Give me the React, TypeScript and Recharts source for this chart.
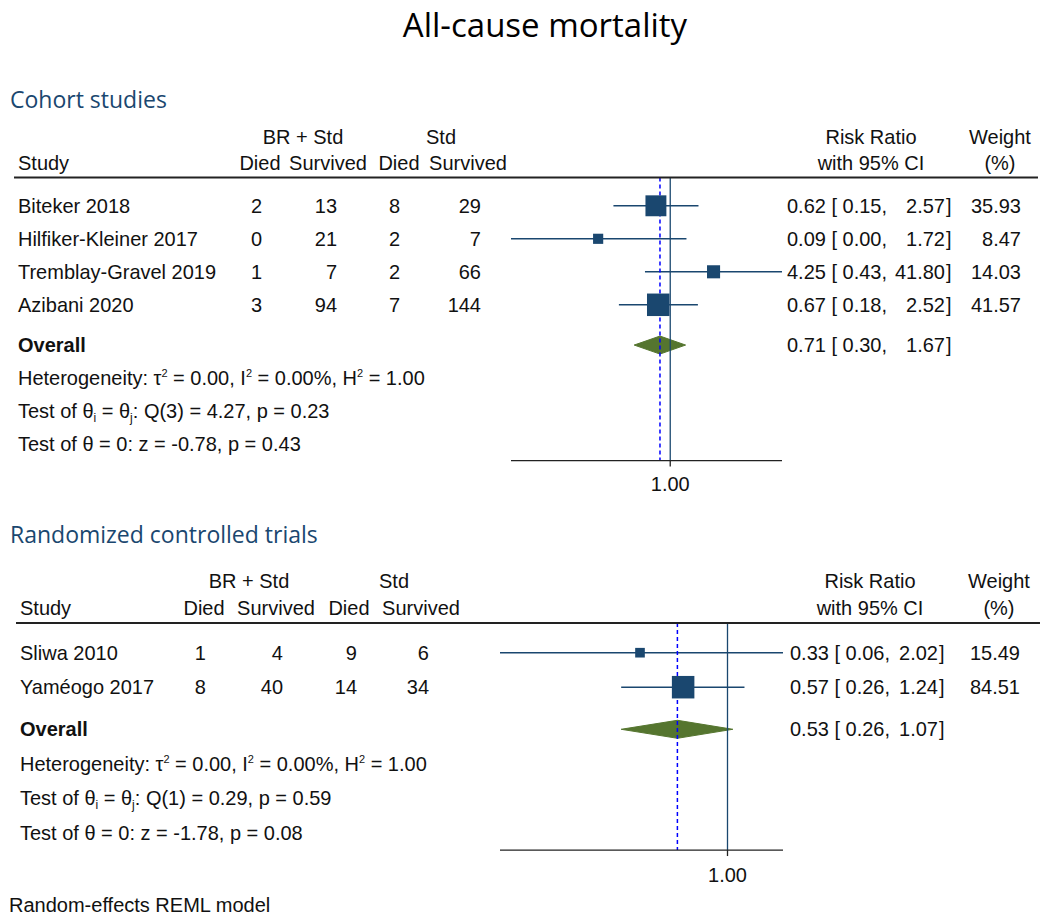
import { ComposedChart, Scatter, Area, XAxis, YAxis, ErrorBar, ReferenceLine } from 'recharts'

const FONT = '"Liberation Sans", Arial, sans-serif'
const HEAD_FONT = '"Open Sans", sans-serif'
const NAVY = '#1a476f'
const GREEN = '#55752f'
const INK = '#111'

// Cohort studies
const cohortStudy = ['Biteker 2018', 'Hilfiker-Kleiner 2017', 'Tremblay-Gravel 2019', 'Azibani 2020']
const cohortBrDied = [2, 0, 1, 3]
const cohortBrSurvived = [13, 21, 7, 94]
const cohortStdDied = [8, 2, 2, 7]
const cohortStdSurvived = [29, 7, 66, 144]
const cohortRR = [0.62, 0.09, 4.25, 0.67]
const cohortLo = [0.15, 0.0049, 0.43, 0.18]
const cohortHi = [2.57, 1.72, 41.8, 2.52]
const cohortWeight = [35.93, 8.47, 14.03, 41.57]
const cohortOverall = [0.71, 0.3, 1.67] // RR, lower, upper
const cohortHet = [0.0, 0.0, 1.0] // tau2, I2 (%), H2
const cohortQ = [3, 4.27, 0.23] // df, Q, p
const cohortZ = [-0.78, 0.43] // z, p

// Randomized controlled trials
const rctStudy = ['Sliwa 2010', 'Yaméogo 2017']
const rctBrDied = [1, 8]
const rctBrSurvived = [4, 40]
const rctStdDied = [9, 14]
const rctStdSurvived = [6, 34]
const rctRR = [0.33, 0.57]
const rctLo = [0.056, 0.26]
const rctHi = [2.02, 1.24]
const rctWeight = [15.49, 84.51]
const rctOverall = [0.53, 0.26, 1.07]
const rctHet = [0.0, 0.0, 1.0]
const rctQ = [1, 0.29, 0.59]
const rctZ = [-1.78, 0.08]

// column positions (page x)
const cohortCols = {
  name: 18, brDied: 262, brSurv: 337, stdDied: 400, stdSurv: 481,
  brHead: 303, stdHead: 441, died1: 260, surv1: 328, died2: 399, surv2: 468,
  rr: 787, hi: 945, weight: 1021, rrHead: 871, wHead: 1000,
  ruleFrom: 14, ruleTo: 1038, plotL: 511, plotR: 782,
}
const rctCols = {
  name: 20, brDied: 206, brSurv: 283, stdDied: 357, stdSurv: 429,
  brHead: 249, stdHead: 394, died1: 204, surv1: 276, died2: 349, surv2: 421,
  rr: 790, hi: 938, weight: 1020, rrHead: 870, wHead: 999,
  ruleFrom: 16, ruleTo: 1040, plotL: 500, plotR: 783,
}

const f2 = (v: number) => v.toFixed(2)
const px = (v: number) => v - 8

function renderRow(props: any, c: any) {
  const { cy, payload: p } = props
  const t = (x: number, s: any, anchor = 'start', extra: any = {}) => (
    <text x={px(x)} y={cy} dy="0.35em" textAnchor={anchor} {...extra}>{s}</text>
  )
  const ci = (rr: number, lo: number, hi: number) => (
    <>
      {t(c.rr, `${f2(rr)} [ ${f2(lo)},`)}
      {t(c.hi, f2(hi), 'end')}
      {t(c.hi + 1, ']')}
    </>
  )
  let body: any = null
  if (p.kind === 'head1') {
    body = <>{t(c.brHead, 'BR + Std', 'middle')}{t(c.stdHead, 'Std', 'middle')}{t(c.rrHead, 'Risk Ratio', 'middle')}{t(c.wHead, 'Weight', 'middle')}</>
  } else if (p.kind === 'head2') {
    body = (
      <>
        {t(c.name, 'Study')}
        {t(c.died1, 'Died', 'middle')}{t(c.surv1, 'Survived', 'middle')}
        {t(c.died2, 'Died', 'middle')}{t(c.surv2, 'Survived', 'middle')}
        {t(c.rrHead, 'with 95% CI', 'middle')}{t(c.wHead, '(%)', 'middle')}
      </>
    )
  } else if (p.kind === 'rule') {
    body = <line x1={px(c.ruleFrom)} x2={px(c.ruleTo)} y1={cy} y2={cy} stroke="#222" strokeWidth={2} />
  } else if (p.kind === 'study') {
    body = (
      <>
        {t(c.name, p.name)}
        {t(c.brDied, p.brDied, 'end')}{t(c.brSurv, p.brSurv, 'end')}
        {t(c.stdDied, p.stdDied, 'end')}{t(c.stdSurv, p.stdSurv, 'end')}
        {ci(p.rr, p.lo, p.hi)}
        {t(c.weight, f2(p.w), 'end')}
      </>
    )
  } else if (p.kind === 'overall') {
    body = <>{t(c.name, 'Overall', 'start', { fontWeight: 700 })}{ci(p.rr, p.lo, p.hi)}</>
  } else if (p.kind === 'het') {
    const [tau2, i2, h2] = p.v
    body = (
      <text x={px(c.name)} y={cy} dy="0.35em">
        Heterogeneity: τ<tspan dy={-8} fontSize={11}>2</tspan>
        <tspan dy={8}>{` = ${f2(tau2)}, I`}</tspan><tspan dy={-8} fontSize={11}>2</tspan>
        <tspan dy={8}>{` = ${f2(i2)}%, H`}</tspan><tspan dy={-8} fontSize={11}>2</tspan>
        <tspan dy={8}>{` = ${f2(h2)}`}</tspan>
      </text>
    )
  } else if (p.kind === 'q') {
    const [df, qv, pv] = p.v
    body = (
      <text x={px(c.name)} y={cy} dy="0.35em">
        Test of θ<tspan dy={4} fontSize={12}>i</tspan>
        <tspan dy={-4}> = θ</tspan><tspan dy={4} fontSize={12}>j</tspan>
        <tspan dy={-4}>{`: Q(${df}) = ${f2(qv)}, p = ${f2(pv)}`}</tspan>
      </text>
    )
  } else if (p.kind === 'z') {
    const [zv, pv] = p.v
    body = t(c.name, `Test of θ = 0: z = ${f2(zv)}, p = ${f2(pv)}`)
  }
  return <g fontFamily={FONT} fontSize={20} fill={INK}>{body}</g>
}

const renderBox = (wMax: number) => (props: any) => {
  const { cx, cy, payload } = props
  const s = 22.5 * Math.sqrt(payload.w / wMax)
  return <rect x={cx - s / 2} y={cy - s / 2} width={s} height={s} fill={NAVY} />
}

function Panel(props: any) {
  const { study, brDied, brSurv, stdDied, stdSurv, rr, lo, hi, weight, overall, het, q, z, cols, rowH, firstY, tickGap } = props
  const ln = Math.log
  const n = study.length
  const yMin = -2.6
  const yMax = n + 3.72
  const plotH = (yMax - yMin) * rowH
  const axisH = 44
  const xMin = Math.min(...lo.map(ln))
  const xMax = Math.max(...hi.map(ln))
  const wMax = Math.max(...weight)

  const boxes = study.map((_: string, i: number) => ({
    x: ln(rr[i]), y: i, w: weight[i],
    err: [ln(rr[i]) - ln(lo[i]), ln(hi[i]) - ln(rr[i])],
  }))
  const oy = n + 0.22
  const dh = 9 / rowH
  const diamond = [
    { x: ln(overall[1]), d: [oy, oy] },
    { x: ln(overall[0]), d: [oy - dh, oy + dh] },
    { x: ln(overall[2]), d: [oy, oy] },
  ]
  const rows = [
    { x: 0, y: -2.07, kind: 'head1' },
    { x: 0, y: -1.29, kind: 'head2' },
    { x: 0, y: -0.86, kind: 'rule' },
    ...study.map((name: string, i: number) => ({
      x: 0, y: i, kind: 'study', name,
      brDied: brDied[i], brSurv: brSurv[i], stdDied: stdDied[i], stdSurv: stdSurv[i],
      rr: rr[i], lo: lo[i], hi: hi[i], w: weight[i],
    })),
    { x: 0, y: oy, kind: 'overall', rr: overall[0], lo: overall[1], hi: overall[2] },
    { x: 0, y: n + 1.22, kind: 'het', v: het },
    { x: 0, y: n + 2.22, kind: 'q', v: q },
    { x: 0, y: n + 3.22, kind: 'z', v: z },
  ]

  return (
    <div style={{ position: 'absolute', left: 0, top: firstY - 8 + yMin * rowH }}>
      <ComposedChart
        width={1034}
        height={plotH + axisH}
        data={diamond}
        margin={{ top: 0, bottom: 0, left: px(cols.plotL), right: 1034 - px(cols.plotR) }}
      >
        <XAxis
          type="number"
          dataKey="x"
          domain={[xMin, xMax]}
          ticks={[0]}
          tickFormatter={() => '1.00'}
          height={axisH}
          tickSize={6}
          tickMargin={tickGap}
          axisLine={{ stroke: '#222', strokeWidth: 1.3 }}
          tickLine={{ stroke: '#222', strokeWidth: 1.3 }}
          tick={{ fontSize: 20, fill: INK, fontFamily: FONT }}
        />
        <YAxis type="number" dataKey="y" domain={[yMin, yMax]} reversed hide />
        <Area dataKey="d" type="linear" fill={GREEN} fillOpacity={1} stroke={GREEN} strokeWidth={1} isAnimationActive={false} />
        <Scatter data={boxes} shape={renderBox(wMax)} isAnimationActive={false}>
          <ErrorBar dataKey="err" direction="x" width={0} stroke={NAVY} strokeWidth={1.5} />
        </Scatter>
        <ReferenceLine segment={[{ x: 0, y: -0.86 }, { x: 0, y: yMax }]} stroke={NAVY} strokeWidth={1.3} />
        <ReferenceLine
          segment={[{ x: ln(overall[0]), y: -0.86 }, { x: ln(overall[0]), y: yMax }]}
          stroke="#0000ff"
          strokeWidth={1.5}
          strokeDasharray="4 3"
        />
        <Scatter data={rows} shape={(p: any) => renderRow(p, cols)} isAnimationActive={false} />
      </ComposedChart>
    </div>
  )
}

export default function App() {
  return (
    <div style={{ position: 'relative', width: 1034, height: 912, background: '#fff' }}>
      <svg width={1050} height={50} style={{ position: 'absolute', left: -8, top: -8 }}>
        <text x={545} y={37} textAnchor="middle" fontFamily={HEAD_FONT} fontSize={33} fill="#000">All-cause mortality</text>
      </svg>
      <svg width={1034} height={912} style={{ position: 'absolute', left: 0, top: 0 }}>
        <text x={2} y={100} fontFamily={HEAD_FONT} fontSize={23} fill={NAVY}>Cohort studies</text>
        <text x={2} y={535} fontFamily={HEAD_FONT} fontSize={23} fill={NAVY}>Randomized controlled trials</text>
        <text x={1} y={904} fontFamily={FONT} fontSize={20} fill={INK}>Random-effects REML model</text>
      </svg>
      <Panel
        study={cohortStudy} brDied={cohortBrDied} brSurv={cohortBrSurvived}
        stdDied={cohortStdDied} stdSurv={cohortStdSurvived}
        rr={cohortRR} lo={cohortLo} hi={cohortHi} weight={cohortWeight}
        overall={cohortOverall} het={cohortHet} q={cohortQ} z={cohortZ}
        cols={cohortCols} rowH={33} firstY={206} tickGap={10}
      />
      <Panel
        study={rctStudy} brDied={rctBrDied} brSurv={rctBrSurvived}
        stdDied={rctStdDied} stdSurv={rctStdSurvived}
        rr={rctRR} lo={rctLo} hi={rctHi} weight={rctWeight}
        overall={rctOverall} het={rctHet} q={rctQ} z={rctZ}
        cols={rctCols} rowH={34.5} firstY={653} tickGap={12}
      />
    </div>
  )
}
